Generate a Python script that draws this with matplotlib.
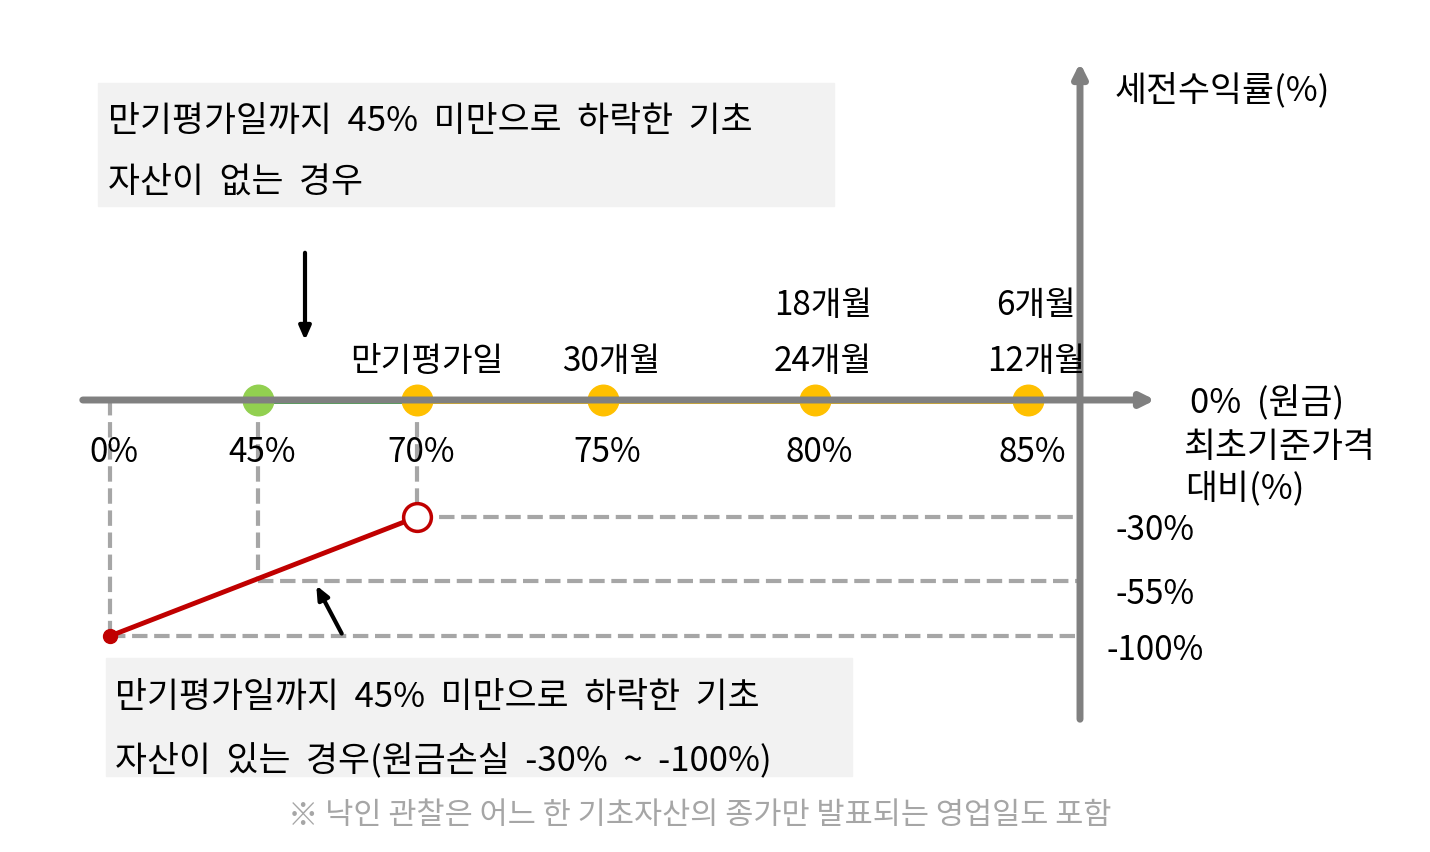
import matplotlib.pyplot as plt
from matplotlib.patches import Rectangle

plt.rcParams['font.family'] = ['Noto Sans CJK KR', 'DejaVu Sans']

# barrier levels (schematic x position in px) and labels
levels = ['0%', '45%', '70%', '75%', '80%', '85%']
level_x = [110, 258, 417, 603, 815, 1028]
periods = ['', '', '만기평가일', '30개월', '24개월', '12개월']
periods_top = ['', '', '', '', '18개월', '6개월']
# loss levels (schematic y position in px)
losses = ['-30%', '-55%', '-100%']
loss_y = [517, 581, 636]

fig = plt.figure(figsize=(14.3, 8.52), dpi=100)
ax = fig.add_axes([0, 0, 1, 1])
ax.set_xlim(0, 1430)
ax.set_ylim(852, 0)
ax.axis('off')

axis_y = 400
gray = '#808080'
dash = '#a6a6a6'

# dashed guides
ax.plot([level_x[0], level_x[0]], [axis_y, loss_y[2]], '--', color=dash, lw=3)
ax.plot([level_x[1], level_x[1]], [axis_y, loss_y[1]], '--', color=dash, lw=3)
ax.plot([level_x[2], level_x[2]], [axis_y, loss_y[0]], '--', color=dash, lw=3)
ax.plot([level_x[2], 1080], [loss_y[0], loss_y[0]], '--', color=dash, lw=3)
ax.plot([level_x[1], 1080], [loss_y[1], loss_y[1]], '--', color=dash, lw=3)
ax.plot([level_x[0], 1080], [loss_y[2], loss_y[2]], '--', color=dash, lw=3)

# axes
ax.annotate('', xy=(1158, axis_y), xytext=(80, axis_y),
            arrowprops=dict(arrowstyle='-|>,head_width=0.4,head_length=0.8', color=gray, lw=5))
ax.annotate('', xy=(1080, 60), xytext=(1080, 722),
            arrowprops=dict(arrowstyle='-|>,head_width=0.4,head_length=0.8', color=gray, lw=5))

# coloured segments
ax.plot([level_x[1], level_x[2]], [axis_y, axis_y], color='#3cb043', lw=5)
ax.plot([level_x[2], level_x[5]], [axis_y, axis_y], color='#ffc000', lw=5)
ax.plot(level_x[1], axis_y, 'o', color='#92d050', ms=22)
for x in level_x[2:]:
    ax.plot(x, axis_y, 'o', color='#ffc000', ms=22)

# payoff line
ax.plot([level_x[0], level_x[2]], [loss_y[2], loss_y[0]], color='#c00000', lw=3.5)
ax.plot(level_x[0], loss_y[2], 'o', color='#c00000', ms=10)
ax.plot(level_x[2], loss_y[0], 'o', mfc='white', mec='#c00000', mew=2.5, ms=20)

fs = 24
for x, lab, p, pt in zip(level_x, levels, periods, periods_top):
    ax.text(x + 4, 452, lab, fontsize=fs, ha='center', va='center')
    if p:
        ax.text(x + 8 if x > 500 else x + 10, 361, p, fontsize=fs, ha='center', va='center')
    if pt:
        ax.text(x + 8, 305, pt, fontsize=fs, ha='center', va='center')
for y, lab in zip(loss_y, losses):
    ax.text(1155, y + 14, lab, fontsize=fs, ha='center', va='center')

ax.text(1115, 90, '세전수익률(%)', fontsize=fs + 1, va='center')
ax.text(1190, 404, '0%  (원금)', fontsize=fs + 1, va='center')
ax.text(1183, 447, '최초기준가격', fontsize=fs + 1, va='center')
ax.text(1185, 490, '대비(%)', fontsize=fs + 1, va='center')

# text boxes
bf = 25
ax.add_patch(Rectangle((98, 83), 736, 123, color='#f2f2f2', zorder=0))
ax.text(108, 122, '만기평가일까지  45%  미만으로  하락한  기초', fontsize=bf, va='center')
ax.text(108, 182, '자산이  없는  경우', fontsize=bf, va='center')
ax.add_patch(Rectangle((106, 658), 746, 118, color='#f2f2f2', zorder=0))
ax.text(115, 697, '만기평가일까지  45%  미만으로  하락한  기초', fontsize=bf, va='center')
ax.text(115, 760, '자산이  있는  경우(원금손실  -30%  ~  -100%)', fontsize=bf, va='center')

# arrows
ax.annotate('', xy=(305, 343), xytext=(305, 250),
            arrowprops=dict(arrowstyle='-|>,head_width=0.35,head_length=0.8', color='black', lw=3))
ax.annotate('', xy=(315, 583), xytext=(343, 636),
            arrowprops=dict(arrowstyle='-|>,head_width=0.35,head_length=0.8', color='black', lw=3))

ax.text(700, 815, '※ 낙인 관찰은 어느 한 기초자산의 종가만 발표되는 영업일도 포함',
        fontsize=22, color='#a6a6a6', ha='center', va='center')

fig.savefig('out.png', dpi=100)
